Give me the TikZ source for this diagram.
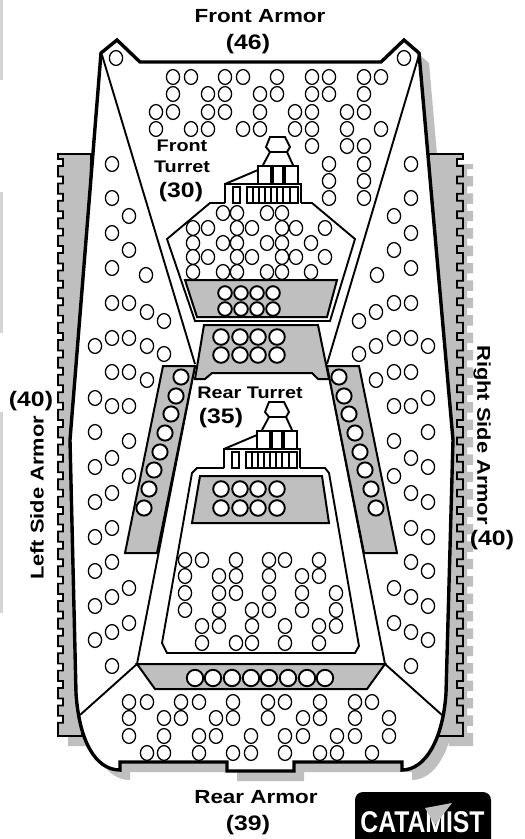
\documentclass[tikz,border=0pt]{standalone}
\usepackage{fontspec}
\newfontfamily\labfont[FakeStretch=1.18]{Liberation Sans}
\newfontfamily\logofont[FakeStretch=0.825]{Liberation Sans}
\definecolor{armorgray}{gray}{0.75}
\definecolor{tabgray}{gray}{0.83}
\tikzset{
  hole/.style={draw=black,line width=1.3pt,fill=white},
  ammo/.style={draw=black,line width=1.9pt,fill=white},
  hullline/.style={draw=black,line width=3.4pt,line join=miter},
  innerline/.style={draw=black,line width=1.9pt,line join=miter},
  bin/.style={draw=black,line width=2pt,fill=armorgray,line join=miter},
  crenel/.style={draw=black,line width=1.7pt,fill=armorgray,line join=miter},
  biglabel/.style={font=\labfont\bfseries\fontsize{19}{20}\selectfont,inner sep=0pt,text=black},
  sidelabel/.style={font=\labfont\bfseries\fontsize{18.5}{20}\selectfont,inner sep=0pt,text=black},
  numlabel/.style={font=\labfont\bfseries\fontsize{21}{22}\selectfont,inner sep=0pt,text=black},
  midlabel/.style={font=\labfont\bfseries\fontsize{16.8}{18}\selectfont,inner sep=0pt,text=black},
}
\newcommand{\leftcrenel}{(91,154) -- (58,154) -- (58,159)
  \foreach \k in {0,...,32} { -- (63,{159+17.4*\k}) -- (63,{166+17.4*\k}) -- (58,{166+17.4*\k}) -- (58,{176.4+17.4*\k}) }
  -- (58,736) -- (82,736)}
\newcommand{\rightcrenel}{(429,154) -- (463,154) -- (463,159)
  \foreach \k in {0,...,32} { -- (457,{159+17.4*\k}) -- (457,{166+17.4*\k}) -- (463,{166+17.4*\k}) -- (463,{176.4+17.4*\k}) }
  -- (463,736) -- (439,736)}
\newcommand{\hullpath}{(101,53) -- (117,40) -- (140,62) -- (381,62) -- (404,40) -- (419,53)
  -- (453,440) -- (446,693) .. controls (443,740) and (425,770) .. (402,770)
  -- (402,762) -- (294,762) -- (294,771) -- (227,771) -- (227,762) -- (120,762) -- (120,770)
  .. controls (95,770) and (79,740) .. (76,693) -- (70,440) -- cycle}
\begin{document}
\begin{tikzpicture}[x=1pt,y=-1pt]
\useasboundingbox (0,0) rectangle (525,839);
\begin{scope}
\clip (0,0) rectangle (525,839);
% page tabs at the left edge
\fill[tabgray] (0,0) rectangle (3,80);
\fill[tabgray] (0,192) rectangle (3,333);
\fill[tabgray] (0,412) rectangle (3,613);
% drop shadow
\begin{scope}[shift={(10,10)}]
  \fill[armorgray] \leftcrenel -- (91,300) -- cycle;
  \fill[armorgray] \rightcrenel -- (429,300) -- cycle;
  \fill[armorgray] \hullpath;
\end{scope}
% side armor
\path[crenel] \leftcrenel -- (91,154);
\path[crenel] \rightcrenel -- (429,154);
% hull
\path[hullline,fill=white] \hullpath;
% inner lines
\draw[innerline] (102,55) -- (195,364);
\draw[innerline] (419,55) -- (327,364);
\draw[innerline] (195,366) -- (137,664) -- (80,715);
\draw[innerline] (327,366) -- (385,664) -- (442,715);
% side bins
\path[bin] (163,366) -- (195,366) -- (157,553) -- (125,553) -- cycle;
\path[bin] (327,366) -- (359,366) -- (397,553) -- (364,553) -- cycle;
% turret outlines
\draw[innerline] (225,203) -- (210,203) -- (167,239) -- (195,321) -- (330,321) -- (355,239) -- (312,203) -- (301,203);
\draw[innerline] (224,468) -- (197,468) -- (192,473) -- (162,643) -- (167,653) -- (355,653) -- (359,646) -- (329,473) -- (325,468) -- (300,468);
% gray bins
\path[bin] (185,280) -- (337,280) -- (327,317) -- (197,317) -- cycle;
\path[bin] (204,325) -- (318,325) -- (329,379) -- (318,379) -- (312,373) -- (212,373) -- (205,379) -- (195,379) -- cycle;
\path[bin] (200,476) -- (322,476) -- (329,523) -- (192,523) -- cycle;
\path[bin] (137,664) -- (385,664) -- (367,689) -- (155,689) -- cycle;
% turrets
\foreach \sx/\sy in {0/0,-1/265}{
\begin{scope}[shift={(\sx,\sy)}]
  \draw[innerline] (225,203) -- (225,184) -- (301,184) -- (301,203);
  \draw[innerline] (225,184) -- (258,170);
  \draw[innerline] (258,184) -- (258,166) -- (298,166) -- (298,184);
  \draw[line width=3.2pt] (272,166) -- (272,184) (284,166) -- (284,184);
  \draw[innerline,fill=white] (270,137) -- (285,137) -- (290,147) -- (287,152) -- (270,152) -- (266,147) -- cycle;
  \draw[innerline] (270,152) -- (263,165) (287,152) -- (293,165);
  \draw[line width=1.6pt] (233,187) rectangle (240,203);
  \draw[line width=1.6pt] (247,187) rectangle (298,203);
  \foreach \lx in {253,259,265,271,277,283,290}{\draw[line width=1.3pt] (\lx,187) -- (\lx,203);}
\end{scope}}
% front armor holes
\foreach \r/\cols in {77/{173,191,225,243,277,312,329,364,381},
  94/{173,208,225,260,277,312,329,364},
  112/{156,173,208,225,260,295,312,347,364},
  129/{156,191,208,243,260,295,312,347,381},
  146/{312,347,364},
  164/{329,364},181/{329,364},198/{329,364},
  58/{116,404}}{
  \foreach \c in \cols {\path[hole] (\c,\r) ellipse [x radius=6.6pt,y radius=7.4pt];}}
% front turret holes
\foreach \r/\cols in {213/{223,237,267,282},
  228/{193,208,237,252,282,296,325},
  243/{193,223,237,267,282,311},
  257/{193,208,237,252,282,296,325},
  272/{193,223,237,267,282,311}}{
  \foreach \c in \cols {\path[hole] (\c,\r) ellipse [x radius=6.6pt,y radius=7.4pt];}}
% rear turret holes
\foreach \r/\cols in {560/{185,202,236,269,285,319},
  576/{185,219,236,269,302,319},
  593/{185,219,236,269,302,336},
  610/{185,219,252,269,302,336},
  626/{202,219,252,285,319,336},
  643/{202,236,252,285,319}}{
  \foreach \c in \cols {\path[hole] (\c,\r) ellipse [x radius=6.6pt,y radius=7.4pt];}}
% rear armor holes
\foreach \r/\cols in {702/{129,147,181,199,233,268,285,320,355,372},
  718/{129,164,181,216,233,268,303,320,355,389},
  736/{129,164,199,216,251,285,303,337,355,389},
  753/{147,164,199,233,251,285,320,337,372}}{
  \foreach \c in \cols {\path[hole] (\c,\r) ellipse [x radius=6.6pt,y radius=7.4pt];}}
% side armor holes, left and mirrored right
\foreach \c/\r in {112/164,112/198,129/216,112/233,129/250,112/268,146/275,
  112/303,129/303,147/312,164/321,95/346,112/338,129/338,147/346,164/354,
  112/372,129/372,147/380,95/398,112/406,129/406,95/432,129/441,95/467,112/458,
  129/476,95/502,112/493,95/537,112/528,95/571,112/562,95/606,112/597,129/588,
  95/640,112/632,129/623,112/666}{
  \path[hole] (\c,\r) ellipse [x radius=6.6pt,y radius=7.4pt];
  \path[hole] ({523-\c},\r) ellipse [x radius=6.6pt,y radius=7.4pt];}
% ammo circles
\foreach \r in {293,309}{\foreach \c in {225,241,257,273}{\path[ammo] (\c,\r) circle (6.8pt);}}
\foreach \r in {337,355}{\foreach \c in {221,240,258,277}{\path[ammo] (\c,\r) circle (7.8pt);}}
\foreach \r in {489,508}{\foreach \c in {221,240,258,277}{\path[ammo] (\c,\r) circle (7.8pt);}}
\foreach \c in {195,213,232,251,269,288,307,325}{\path[ammo] (\c,678) circle (8.2pt);}
\foreach \c/\r in {181/377,176/396,171/414,165/433,160/452,154/470,149/489,144/508,
  339/377,344/396,349/414,355/433,360/452,365/470,371/489,376/508}{\path[ammo] (\c,\r) circle (7.6pt);}
% labels
\node[biglabel] (frontarmor) at (260,16) {Front Armor};
\node[numlabel] (fa) at (248,44) {(46)};
\node[midlabel] (ft1) at (182,146) {Front};
\node[midlabel] (ft2) at (182,167) {Turret};
\node[numlabel] (ft3) at (181,192) {(30)};
\node[midlabel] (rt1) at (250,393) {Rear Turret};
\node[numlabel] (rt2) at (221,418) {(35)};
\node[numlabel] (la) at (31,401) {(40)};
\node[sidelabel,rotate=90] (lsa) at (37,498) {Left Side Armor};
\node[sidelabel,rotate=-90] (rsa) at (482,435) {Right Side Armor};
\node[numlabel] (ra) at (492,540) {(40)};
\node[biglabel] (reararmor) at (256,797) {Rear Armor};
\node[numlabel] (raval) at (248,825) {(39)};
% logo
\fill[black,rounded corners=8pt] (355,792) rectangle (491,870);
\node[anchor=north,inner sep=0pt,text=white,font=\logofont\bfseries\fontsize{30}{30}\selectfont] (logo) at (422.5,811) {CATAMIST};
\fill[armorgray] (425,808) -- (452,803) -- (435,825) -- cycle;
\end{scope}
\end{tikzpicture}
\end{document}
